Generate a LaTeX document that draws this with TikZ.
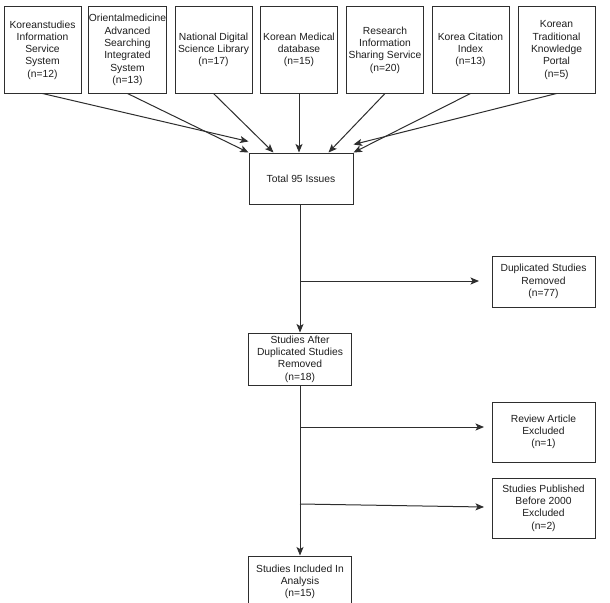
\documentclass[tikz,border=0pt]{standalone}
\usepackage{fontspec}
\setmainfont{Liberation Sans}
\usetikzlibrary{arrows.meta,calc}
\definecolor{ln}{HTML}{2E2E2E}
\definecolor{tx}{HTML}{1E1E1E}
\begin{document}
\begin{tikzpicture}[x=1pt,y=-1pt,
  box/.style={draw=ln,line width=1pt,align=center,inner sep=0pt,text=tx,
    font=\fontsize{10.3}{12.3}\selectfont},
  topbox/.style={box,minimum width=77pt,minimum height=86pt},
  midbox/.style={box,minimum width=103pt,minimum height=51pt},
  sidebox/.style={box,minimum width=103pt},
  arr/.style={draw=ln,line width=1pt,-{Stealth[length=8.5pt,width=7pt,inset=2pt]}},
  ln/.style={draw=ln,line width=1pt}]
\useasboundingbox[fill=white] (0,0) rectangle (610,602);
% top boxes
\node[topbox] (b1) at (42.5,50) {Koreanstudies\\Information\\Service\\System\\(n=12)};
\node[topbox] (b2) at (127.5,50) {Orientalmedicine\\Advanced\\Searching\\Integrated\\System\\(n=13)};
\node[topbox] (b3) at (213.5,50) {National Digital\\Science Library\\(n=17)};
\node[topbox] (b4) at (299,50) {Korean Medical\\database\\(n=15)};
\node[topbox] (b5) at (385,50) {Research\\Information\\Sharing Service\\(n=20)};
\node[topbox] (b6) at (470.5,50) {Korea Citation\\Index\\(n=13)};
\node[topbox] (b7) at (556.5,50) {Korean\\Traditional\\Knowledge\\Portal\\(n=5)};
% total
\node[midbox,minimum width=104pt] (t) at (301,178.5) {Total 95 Issues};
\draw[arr] (b1.south) -- ([yshift=11pt]t.north west);
\draw[arr] (b2.south) -- (t.north west);
\draw[arr] (b3.south) -- ([xshift=25pt]t.north west);
\draw[arr] (b4.south) -- (b4.south |- t.north);
\draw[arr] (b5.south) -- ([xshift=-25pt]t.north east);
\draw[arr] (b6.south) -- (t.north east);
\draw[arr] (b7.south) -- ([yshift=8pt]t.north east);
% side boxes
\node[sidebox,minimum height=51pt] (d) at (543.5,281.5) {Duplicated Studies\\Removed\\(n=77)};
\node[midbox,minimum height=52pt] (s) at (300,359) {Studies After\\Duplicated Studies\\Removed\\(n=18)};
\node[sidebox,minimum height=60pt] (r) at (543.5,432) {Review Article\\Excluded\\(n=1)};
\node[sidebox,minimum height=60pt] (p) at (543.5,508) {Studies Published\\Before 2000\\Excluded\\(n=2)};
\node[midbox,minimum height=52pt] (f) at (300,582) {Studies Included In\\Analysis\\(n=15)};
% spine
\coordinate (j1) at (300,281);
\coordinate (e1) at (479,281);
\coordinate (j2) at (300,427);
\coordinate (e2) at (484,427);
\coordinate (j3) at (300,504);
\coordinate (e3) at (484,507);
\draw[arr] (t.south -| j1) -- (s.north);
\draw[arr] (j1) -- (e1);
\draw[arr] (s.south) -- (f.north);
\draw[arr] (j2) -- (e2);
\draw[arr] (j3) -- (e3);
\end{tikzpicture}
\end{document}
